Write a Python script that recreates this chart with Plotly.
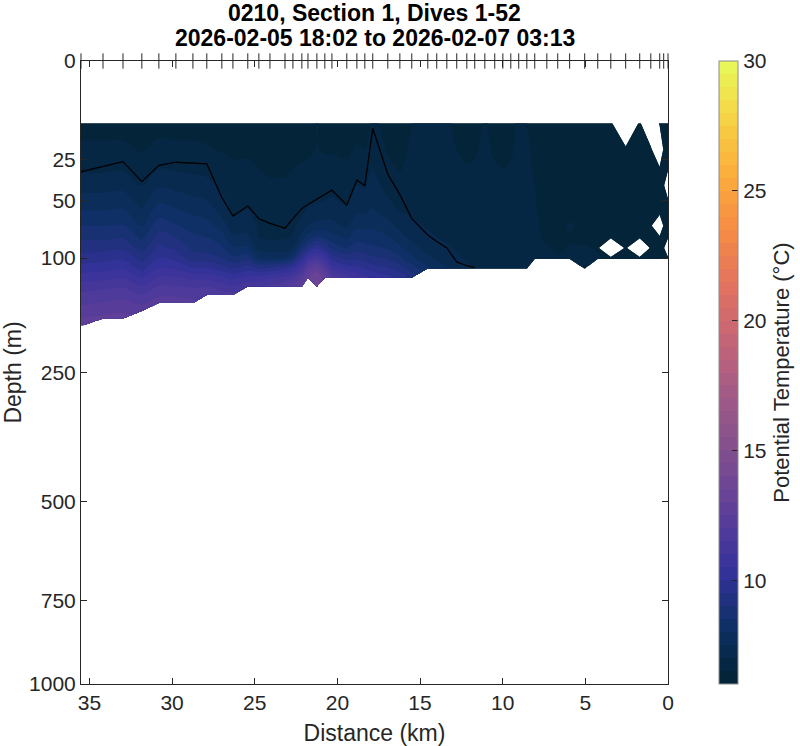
import numpy as np
import plotly.graph_objects as go

# ---------------- data ----------------
dive_km = [35.51, 34.18, 32.97, 31.83, 30.80, 29.77, 28.74, 27.90, 26.99, 26.32,
           25.42, 24.75, 24.08, 23.17, 22.69, 22.15, 21.78, 21.24, 20.76, 20.33,
           19.43, 18.82, 18.34, 17.86, 16.95, 16.22, 15.50, 14.53, 13.99, 13.38,
           12.78, 12.17, 11.69, 11.08, 10.48, 9.99, 9.51, 9.03, 8.54, 8.06,
           7.33, 6.67, 5.95, 5.04, 4.25, 3.46, 2.56, 1.71, 1.04, 0.50, 0.26, 0.00]

depth_m = [10, 20, 30, 40, 50, 60, 70, 80, 90, 100, 110, 120, 130, 140, 150, 160, 170, 180]

# potential temperature profiles (degC) per dive, 10 m bins from 10 m; None = no data
theta_profiles = [
    [6.3, 6.6, 6.9, 7.3, 7.7, 8.1, 8.5, 8.9, 9.3, 9.7, 10.2, 10.7, 11.2, 11.6, 11.9, 12.2, 12.5, 12.8],
    [6.3, 6.6, 6.9, 7.3, 7.7, 8.1, 8.5, 8.9, 9.3, 9.8, 10.3, 10.8, 11.3, 11.7, 12.0, 12.3, 12.6],
    [6.3, 6.6, 6.95, 7.35, 7.75, 8.15, 8.55, 8.95, 9.4, 9.9, 10.4, 10.9, 11.4, 11.8, 12.1, 12.4, 12.7],
    [6.2, 6.45, 6.75, 7.0, 7.3, 7.65, 8.0, 8.4, 8.8, 9.3, 9.8, 10.4, 11.0, 11.5, 11.9, 12.2],
    [6.3, 6.65, 7.0, 7.45, 7.9, 8.35, 8.8, 9.2, 9.6, 10.0, 10.5, 11.0, 11.5, 11.9, 12.2],
    [6.3, 6.6, 6.95, 7.35, 7.75, 8.15, 8.55, 9.0, 9.4, 9.8, 10.4, 11.0, 11.5, 11.9, 12.2],
    [6.3, 6.6, 6.9, 7.25, 7.6, 7.95, 8.3, 8.6, 8.9, 9.2, 10.0, 10.8, 11.4, 11.8, 12.1],
    [6.3, 6.55, 6.85, 7.15, 7.5, 7.85, 8.2, 8.5, 8.8, 9.2, 10.0, 10.8, 11.4, 11.9],
    [6.2, 6.45, 6.7, 6.9, 7.1, 7.4, 7.8, 8.2, 8.6, 9.0, 9.7, 10.5, 11.2, 11.7],
    [6.2, 6.4, 6.6, 6.75, 6.85, 6.95, 7.2, 7.6, 8.1, 8.6, 9.4, 10.3, 11.0, 11.6],
    [6.2, 6.4, 6.6, 6.75, 6.9, 7.05, 7.3, 7.6, 8.1, 8.8, 9.7, 10.6, 11.3],
    [6.2, 6.35, 6.5, 6.6, 6.7, 6.8, 6.9, 7.0, 7.3, 8.0, 9.4, 10.6, 11.3],
    [6.2, 6.35, 6.45, 6.55, 6.65, 6.75, 6.85, 6.95, 7.2, 7.9, 9.5, 10.8, 11.5],
    [6.2, 6.35, 6.45, 6.55, 6.65, 6.75, 6.85, 6.95, 7.2, 8.0, 9.8, 11.0, 11.8],
    [6.2, 6.35, 6.5, 6.6, 6.7, 6.8, 6.9, 7.05, 7.5, 8.5, 10.2, 11.4, 12.1],
    [6.2, 6.4, 6.55, 6.7, 6.8, 6.95, 7.2, 7.7, 8.6, 9.8, 11.0, 12.0, 12.6],
    [6.2, 6.4, 6.6, 6.75, 6.9, 7.1, 7.5, 8.2, 9.3, 10.7, 12.0, 12.9],
    [6.55, 6.52, 6.65, 6.8, 6.95, 7.2, 7.7, 8.6, 9.9, 11.3, 12.6, 13.4, 13.8],
    [6.25, 6.45, 6.65, 6.85, 7.0, 7.3, 7.7, 8.4, 9.4, 10.6, 11.8, 12.7],
    [6.25, 6.45, 6.65, 6.85, 7.05, 7.3, 7.7, 8.2, 8.9, 9.8, 10.8, 11.7],
    [6.2, 6.4, 6.6, 6.75, 6.9, 7.1, 7.4, 7.9, 8.5, 9.3, 10.2, 11.1],
    [6.3, 6.55, 6.8, 7.0, 7.25, 7.5, 7.9, 8.3, 8.8, 9.4, 10.1, 10.8],
    [6.3, 6.5, 6.75, 6.95, 7.2, 7.5, 7.85, 8.25, 8.7, 9.3, 9.9, 10.6],
    [6.6, 6.8, 7.0, 7.2, 7.4, 7.6, 7.9, 8.2, 8.6, 9.1, 9.7, 10.4],
    [6.35, 6.45, 6.6, 6.8, 7.05, 7.35, 7.7, 8.05, 8.45, 8.95, 9.5, 10.1],
    [6.3, 6.4, 6.48, 6.62, 6.8, 7.05, 7.35, 7.7, 8.1, 8.6, 9.2, 9.8],
    [6.5, 6.55, 6.6, 6.7, 6.8, 6.95, 7.1, 7.35, 7.7, 8.1, 8.7, 9.3],
    [6.55, 6.58, 6.6, 6.65, 6.75, 6.85, 6.95, 7.1, 7.3, 7.6, 8.1],
    [6.55, 6.57, 6.6, 6.65, 6.72, 6.8, 6.9, 7.0, 7.15, 7.4, 7.8],
    [6.55, 6.56, 6.58, 6.62, 6.7, 6.78, 6.85, 6.92, 7.05, 7.25, 7.55],
    [6.45, 6.5, 6.55, 6.6, 6.68, 6.75, 6.82, 6.88, 6.95, 7.05, 7.25],
    [6.4, 6.45, 6.52, 6.58, 6.65, 6.72, 6.78, 6.84, 6.9, 6.96, 7.05],
    [6.4, 6.48, 6.52, 6.58, 6.64, 6.7, 6.75, 6.8, 6.85, 6.9, 6.95],
    [6.52, 6.54, 6.56, 6.58, 6.62, 6.67, 6.72, 6.76, 6.8, 6.84, 6.88],
    [6.45, 6.47, 6.52, 6.55, 6.61, 6.65, 6.7, 6.73, 6.76, 6.8, 6.82],
    [6.4, 6.44, 6.5, 6.53, 6.58, 6.63, 6.66, 6.69, 6.72, 6.75, 6.78],
    [6.45, 6.47, 6.52, 6.55, 6.56, 6.6, 6.63, 6.66, 6.69, 6.72, 6.74],
    [6.55, 6.56, 6.57, 6.58, 6.58, 6.6, 6.61, 6.64, 6.66, 6.68, 6.7],
    [6.5, 6.52, 6.54, 6.55, 6.56, 6.57, 6.58, 6.6, 6.62, 6.64, 6.65],
    [6.45, 6.47, 6.48, 6.5, 6.52, 6.53, 6.54, 6.55, 6.56, 6.58],
    [6.12, 6.2, 6.26, 6.32, 6.36, 6.4, 6.43, 6.46, 6.52, 6.54],
    [6.1, 6.16, 6.22, 6.27, 6.31, 6.35, 6.38, 6.42, 6.46, 6.52],
    [6.1, 6.15, 6.2, 6.25, 6.3, 6.4, 6.55, 6.45, 6.52, 6.56],
    [6.1, 6.15, 6.2, 6.25, 6.3, 6.34, 6.38, 6.44, 6.52, 6.56, 6.48],
    [6.1, 6.14, 6.18, 6.22, 6.26, 6.3, 6.34, 6.4, 6.48, 6.52],
    [6.1, 6.14, 6.18, 6.22, 6.26, 6.3, 6.33, 6.38, None, 6.45],
    [None, 6.12, 6.16, 6.2, 6.24, 6.28, 6.32, 6.36, 6.4, 6.43],
    [6.08, 6.12, 6.16, 6.2, 6.24, 6.28, 6.31, 6.34, None, 6.4],
    [None, 6.1, 6.14, 6.18, 6.22, 6.26, 6.3, 6.33, 6.36, 6.38],
    [6.08, None, 6.12, 6.16, 6.2, 6.24, None, 6.3, 6.33, 6.35],
    [6.06, 6.08, 6.1, 6.14, 6.18, 6.22, 6.25, 6.28, 6.3, 6.32],
    [6.05, 6.08, 6.1, None, 6.16, 6.2, 6.22, 6.25, None, 6.3],
]

# mixed-layer depth (m) for the dives where it lies above the bottom of the data
mld_m = [31.6, 28.8, 26.1, 37.5, 28.0, 26.4, 26.8, 27.3, 48.0, 61.9,
         54.2, 64.0, 68.0, 72.0, 64.0, 56.0, 53.0, 49.0, 46.0, 43.0,
         53.4, 36.5, 40.0, 11.7, 33.0, 46.0, 64.0, 78.0, 84.0, 90.0,
         104.0, 108.0, 110.0]

depth_ticks = [0, 25, 50, 100, 250, 500, 750, 1000]
dist_ticks = [0, 5, 10, 15, 20, 25, 30, 35]
cbar_ticks = [10, 15, 20, 25, 30]

title_line1 = "0210, Section 1, Dives 1-52"
title_line2 = "2026-02-05 18:02 to 2026-02-07 03:13"

# ---------------- figure ----------------
n = len(depth_m)
Z = np.array([p + [None] * (n - len(p)) for p in theta_profiles], dtype=float).T
ys = np.sqrt(np.array(depth_m, dtype=float))

FONT = "Liberation Sans, Arial, Helvetica, sans-serif"
AX = "#262626"

fig = go.Figure()
fig.add_trace(go.Contour(
    x=dive_km, y=ys, z=Z,
    colorscale="thermal", zmin=6, zmax=30, zauto=False,
    autocontour=False,
    contours=dict(start=6, end=30, size=0.5, coloring="fill", showlines=False),
    line=dict(width=0),
    connectgaps=False,
    hoverinfo="skip",
    colorbar=dict(
        x=1.087, xanchor="left", xpad=0, y=0.5, yanchor="middle", ypad=0,
        len=1.0, lenmode="fraction", thickness=19,
        outlinecolor="#8c8c8c", outlinewidth=1,
        tickvals=cbar_ticks, ticks="inside", ticklen=6, tickcolor=AX,
        tickfont=dict(size=21, color=AX, family=FONT),
        title=dict(text="Potential Temperature (°C)", side="right",
                   font=dict(size=22, color=AX, family=FONT)),
    ),
))

fig.add_trace(go.Scatter(
    x=dive_km[:len(mld_m)], y=np.sqrt(np.array(mld_m)),
    mode="lines", line=dict(color="black", width=1.3),
    hoverinfo="skip", showlegend=False,
))

fig.add_trace(go.Scatter(
    x=dive_km, y=[0] * len(dive_km), mode="markers",
    marker=dict(symbol="line-ns-open", size=11, color=AX,
                line=dict(width=1, color=AX)),
    cliponaxis=False, hoverinfo="skip", showlegend=False,
))

fig.update_layout(
    width=800, height=746,
    margin=dict(l=81, r=132, t=61, b=62, autoexpand=False),
    paper_bgcolor="white", plot_bgcolor="white",
    font=dict(family=FONT, color=AX),
    showlegend=False,
    annotations=[
        dict(text=f"<b>{title_line1}</b>", xref="paper", yref="paper",
             x=0.5, y=1.077, xanchor="center", yanchor="middle", showarrow=False,
             font=dict(size=23, color="black", family=FONT)),
        dict(text=f"<b>{title_line2}</b>", xref="paper", yref="paper",
             x=0.5, y=1.037, xanchor="center", yanchor="middle", showarrow=False,
             font=dict(size=23, color="black", family=FONT)),
    ],
    xaxis=dict(
        range=[35.51, 0], autorange=False,
        tickvals=dist_ticks, ticks="inside", ticklen=6, tickcolor=AX,
        showline=True, linecolor=AX, linewidth=1, mirror="ticks",
        showgrid=False, zeroline=False,
        tickfont=dict(size=21, color=AX),
        title=dict(text="Distance (km)", font=dict(size=23, color=AX), standoff=11),
    ),
    yaxis=dict(
        range=[float(np.sqrt(1000)), 0], autorange=False,
        tickvals=[float(np.sqrt(v)) for v in depth_ticks],
        ticktext=[str(v) for v in depth_ticks],
        ticks="inside", ticklen=6, tickcolor=AX,
        showline=True, linecolor=AX, linewidth=1, mirror="ticks",
        showgrid=False, zeroline=False,
        tickfont=dict(size=21, color=AX),
        title=dict(text="Depth (m)", font=dict(size=23, color=AX), standoff=8),
    ),
)

# the page's default 8px body margin would shift the 800x746 figure; remove it
fig.write_html("out.html", config={"displayModeBar": False},
               post_script="document.body.style.margin='0';")
